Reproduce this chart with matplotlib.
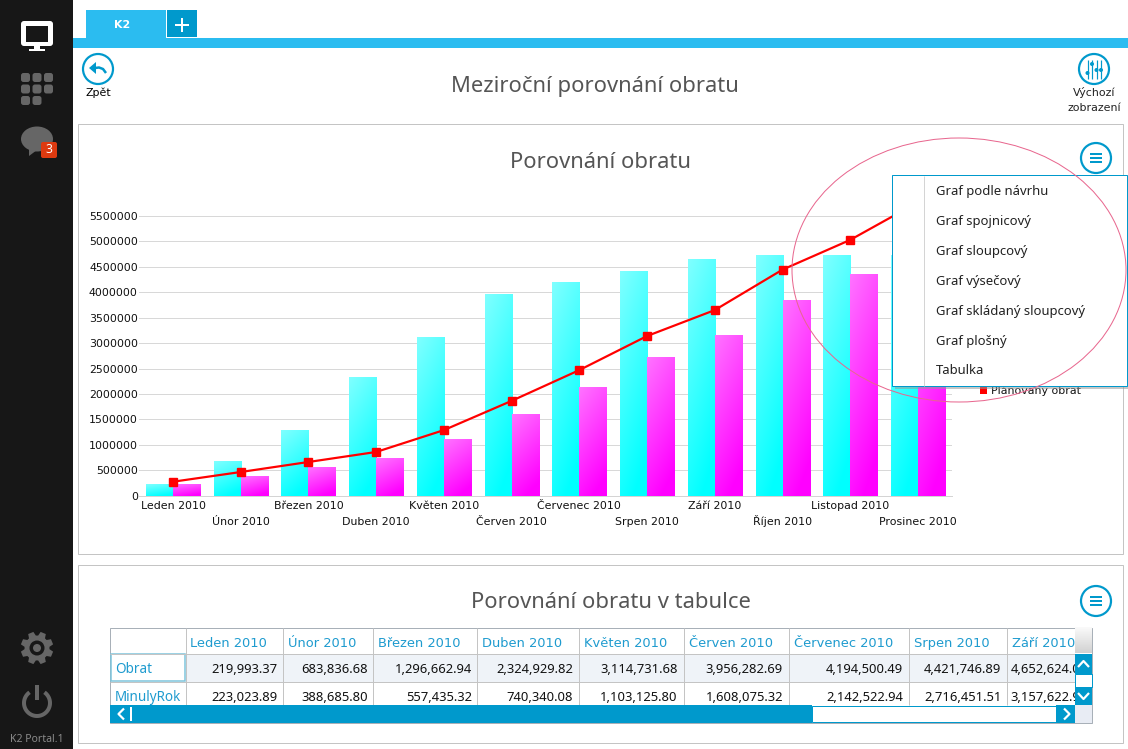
import numpy as np
import matplotlib
matplotlib.use("Agg")
import matplotlib.pyplot as plt
from matplotlib.patches import Rectangle, Circle, Ellipse, FancyBboxPatch, Polygon

months = ["Leden 2010", "Únor 2010", "Březen 2010", "Duben 2010", "Květen 2010", "Červen 2010",
          "Červenec 2010", "Srpen 2010", "Září 2010", "Říjen 2010", "Listopad 2010", "Prosinec 2010"]
obrat = [219993.37, 683836.68, 1296662.94, 2324929.82, 3114731.68, 3956282.69,
         4194500.49, 4421746.89, 4652624.06, 4730000, 4733000, 4733000]
minuly_rok = [223023.89, 388685.80, 557435.32, 740340.08, 1103125.80, 1608075.32,
              2142522.94, 2716451.51, 3157622.96, 3850000, 4360000, 4600000]
planovany = [275000, 466000, 663000, 860000, 1290000, 1865000,
             2470000, 3140000, 3650000, 4445000, 5030000, 5770000]
y_ticks = [0, 500000, 1000000, 1500000, 2000000, 2500000, 3000000, 3500000, 4000000, 4500000, 5000000, 5500000]
menu_items = ["Graf podle návrhu", "Graf spojnicový", "Graf sloupcový", "Graf výsečový",
              "Graf skládaný sloupcový", "Graf plošný", "Tabulka"]
table_cols = [185.5, 283.3, 373.3, 477.3, 578.7, 683.6, 788.7, 908.7, 1006.8, 1075]

W, H = 1128, 749
BLUE = "#0099cc"
LIGHT_BLUE = "#2bbcf0"
TEXT_BLUE = "#1e9bcf"
SIDE = "#171717"
ICON = "#666666"
BORDER = "#c4c4c4"
UI_FONT = "Noto Sans"
CHART_FONT = "DejaVu Sans"


def px(n):
    # pixels to points at dpi 100
    return n * 0.72


fig = plt.figure(figsize=(W / 100, H / 100), dpi=100, facecolor="white")


def full_axes(z):
    a = fig.add_axes([0, 0, 1, 1], zorder=z)
    a.set_xlim(0, W)
    a.set_ylim(H, 0)
    a.axis("off")
    a.patch.set_alpha(0)
    return a


bg = full_axes(1)
fg = full_axes(3)


def rect(a, x0, y0, x1, y1, color, edge="none", lw=1, z=2):
    r = Rectangle((x0, y0), x1 - x0, y1 - y0, facecolor=color, edgecolor=edge, linewidth=px(lw), zorder=z)
    a.add_patch(r)
    return r


def ln(a, xs, ys, color, lw=1, z=3, cap="butt"):
    a.plot(xs, ys, color=color, linewidth=px(lw), zorder=z, solid_capstyle=cap, solid_joinstyle="round")


def ring_button(a, cx, cy):
    a.add_patch(Circle((cx, cy), 15, facecolor="white", edgecolor=BLUE, linewidth=px(2.2), zorder=4))


def menu_button(a, cx, cy):
    ring_button(a, cx, cy)
    for dy in (-4, 0, 4):
        ln(a, [cx - 6, cx + 6], [cy + dy, cy + dy], BLUE, 2, z=5)


# sidebar
rect(bg, 0, 0, 73, H, SIDE)
bg.add_patch(FancyBboxPatch((23, 23), 28, 21, boxstyle="round,pad=2,rounding_size=3", facecolor="white", edgecolor="none", zorder=3))
rect(bg, 26, 26, 48, 42, SIDE, z=4)
rect(bg, 34, 45, 40, 49, "white", z=3)
rect(bg, 29, 48.5, 45, 50.5, "white", z=3)
for row, col in [(r, c) for r in range(3) for c in range(3)]:
    if row == 2 and col == 2:
        continue
    bg.add_patch(FancyBboxPatch((22.5 + col * 11.5, 74.5 + row * 11.5), 6, 6, boxstyle="round,pad=1.5,rounding_size=2.5",
                                facecolor=ICON, edgecolor="none", zorder=3))
bg.add_patch(Ellipse((37, 139), 32, 25, facecolor=ICON, edgecolor="none", zorder=3))
bg.add_patch(Polygon([(29, 148), (37, 150), (29, 156)], facecolor=ICON, edgecolor="none", zorder=3))
bg.add_patch(FancyBboxPatch((42.5, 143.5), 13, 13, boxstyle="round,pad=1.5,rounding_size=2", facecolor="#dd3a10", edgecolor="none", zorder=4))
bg.text(49, 149.5, "3", color="white", fontsize=px(12), ha="center", va="center", family=UI_FONT, zorder=5)

ang = np.linspace(0, 2 * np.pi, 8, endpoint=False) + np.pi / 8
gear = []
for t in ang:
    for d, r in [(-0.30, 12.5), (-0.17, 16.5), (0.17, 16.5), (0.30, 12.5)]:
        gear.append((37 + r * np.cos(t + d), 648 + r * np.sin(t + d)))
bg.add_patch(Polygon(gear, facecolor=ICON, edgecolor="none", zorder=3))
bg.add_patch(Circle((37, 648), 7.5, facecolor=SIDE, edgecolor="none", zorder=4))
bg.add_patch(Circle((37, 648), 4, facecolor=ICON, edgecolor="none", zorder=5))
arc = np.radians(np.linspace(-55, 235, 60))
ln(bg, 37 + 13 * np.cos(arc), 703 + 13 * np.sin(arc), ICON, 4)
ln(bg, [37, 37], [685, 700], ICON, 4)
bg.text(37, 740, "K2 Portal.1", color="#8a8a8a", fontsize=px(10.5), ha="center", va="center", family=UI_FONT)

# tab strip
rect(bg, 73, 38, W, 48, LIGHT_BLUE)
rect(bg, 86, 10, 166, 38, LIGHT_BLUE)
rect(bg, 167, 10, 197, 37, BLUE)
ln(bg, [175, 189], [25, 25], "white", 2)
ln(bg, [182, 182], [18, 32], "white", 2)
bg.text(122, 25, "K2", color="white", fontsize=px(11), fontweight="bold", ha="center", va="center", family=CHART_FONT)

# page header
ring_button(bg, 98, 69)
bg.add_patch(Polygon([(89, 68), (96, 62), (96, 74)], facecolor=BLUE, edgecolor="none", zorder=5))
ln(bg, [95, 99, 103, 106], [68, 67.5, 69, 73], BLUE, 2.5, z=5)
bg.text(98, 93, "Zpět", color="black", fontsize=px(11), ha="center", va="center", family=CHART_FONT)
ring_button(bg, 1094, 69)
for x, yd in zip([1087.5, 1092, 1096.5, 1101], [73, 64, 70, 70]):
    ln(bg, [x, x], [60, 79], BLUE, 1.2, z=5)
    bg.add_patch(Circle((x, yd), 2, facecolor=BLUE, edgecolor="none", zorder=6))
bg.text(1094, 93, "Výchozí", color="#222222", fontsize=px(11), ha="center", va="center", family=CHART_FONT)
bg.text(1094, 108, "zobrazení", color="#222222", fontsize=px(11), ha="center", va="center", family=CHART_FONT)
bg.text(595, 86.5, "Meziroční porovnání obratu", color="#555555", fontsize=px(22), ha="center", va="center", family=UI_FONT)

# panels
rect(bg, 78, 123.5, 1122.5, 554, "white", BORDER)
rect(bg, 78, 564.5, 1122.5, 743, "white", BORDER)
bg.text(600, 162, "Porovnání obratu", color="#555555", fontsize=px(22), ha="center", va="center", family=UI_FONT)
bg.text(611, 603, "Porovnání obratu v tabulce", color="#555555", fontsize=px(22), ha="center", va="center", family=UI_FONT)
menu_button(fg, 1096, 158)
menu_button(bg, 1096, 601)

# chart
x_left, x_right, y_zero, y_top = 139.2, 951.8, 495.7, 216.0
ax = fig.add_axes([x_left / W, 1 - y_zero / H, (x_right - x_left) / W, (y_zero - y_top) / H], zorder=2)
ax.patch.set_alpha(0)
ax.set_xlim(-0.5, 11.5)
ax.set_ylim(0, 5500000)
ax.set_autoscale_on(False)
for s in ("top", "right", "left"):
    ax.spines[s].set_visible(False)
ax.spines["bottom"].set_color("#d4d4d4")
ax.spines["bottom"].set_linewidth(px(1))
ax.set_yticks(y_ticks)
ax.set_yticklabels([str(v) for v in y_ticks], fontsize=px(11), family=CHART_FONT, color="#111111")
ax.tick_params(axis="y", length=0, pad=1)
ax.grid(axis="y", color="#d8d8d8", linewidth=px(1))
ax.set_axisbelow(True)
ax.set_xticks(range(len(months)))
ax.set_xticklabels(months, fontsize=px(11), family=CHART_FONT, color="#111111", va="baseline")
ax.tick_params(axis="x", length=0)
for i, tick in enumerate(ax.xaxis.get_major_ticks()):
    tick.set_pad(px(13 if i % 2 == 0 else 29))
for lab in ax.get_xticklabels():
    lab.set_verticalalignment("baseline")


def gradient_bars(xs, values, width, light, full):
    bars = ax.bar(xs, values, width=width, align="edge", color=full, zorder=2)
    u, v = np.meshgrid(np.linspace(0, 1, 24), np.linspace(0, 1, 96))
    t = np.clip(0.3 * u + 0.85 * v, 0, 1)[..., None]
    img = np.array(light) * (1 - t) + np.array(full) * t
    for b in bars:
        # row 0 of the image is the top of the bar
        ax.imshow(img, extent=(b.get_x(), b.get_x() + b.get_width(), 0, b.get_height()),
                  aspect="auto", origin="upper", zorder=2.1, interpolation="bilinear")


x = np.arange(len(months))
bar_w = 27 / 67.7
gradient_bars(x - bar_w, obrat, bar_w, (0.50, 1, 1), (0, 1, 1))
gradient_bars(x, minuly_rok, bar_w, (1, 0.45, 1), (1, 0, 1))
ax.plot(x, planovany, color="#ff0000", linewidth=px(2.2), marker="s", markersize=px(8.5),
        markerfacecolor="#ff0000", markeredgecolor="#ff0000", zorder=3, clip_on=False)

# legend remnant under the menu
rect(fg, 980, 386, 987, 394, "#ff0000", z=1)
fg.text(991, 390, "Plánovaný obrat", color="#111111", fontsize=px(11), ha="left", va="center", family=CHART_FONT, zorder=1)

# popup menu
rect(fg, 895, 179, 1128, 389, "#999999", z=1.5).set_alpha(0.55)
rect(fg, 892, 175, 1126.5, 386, "white", BLUE, z=2)
ln(fg, [923.7, 923.7], [176, 385.5], "#d4d4d4", 1)
for i, item in enumerate(menu_items):
    fg.text(936, 191 + i * 30, item, color="#222222", fontsize=px(13.1), ha="left", va="center", family=UI_FONT, zorder=4)
fg.add_patch(Ellipse((959, 270), 334, 264, facecolor="none", edgecolor="#e8668e", linewidth=px(1), zorder=5))

# table
t_left, t_top, t_head, t_row1, t_bar, t_bottom, t_right = 110, 628, 653.5, 681.5, 705, 723, 1091.5
rect(bg, t_left, t_top, t_right, t_bottom, "white", "#a8b0b8")
rect(bg, table_cols[0], t_head, table_cols[-1], t_row1, "#eff3f8")
for cx in table_cols[:-1]:
    ln(bg, [cx, cx], [t_top, t_bar], BORDER)
ln(bg, [t_left, table_cols[-1]], [t_head, t_head], BORDER)
ln(bg, [t_left, table_cols[-1]], [t_row1, t_row1], BORDER)
rect(bg, 111, 654, 185, 681, "white", "#7cc4dc", lw=1.5)
bg.text(115, 673, "Obrat", color=TEXT_BLUE, fontsize=px(13.5), ha="left", va="baseline", family=UI_FONT, zorder=6)
bg.text(115, 701, "MinulyRok", color=TEXT_BLUE, fontsize=px(13.5), ha="left", va="baseline", family=UI_FONT, zorder=6)
clip = Rectangle((t_left, t_top), table_cols[-1] - t_left, t_bar - t_top, transform=bg.transData)
value_rights = [278, 368, 472, 573, 677.5, 783, 903, 1001.5, 1088]
for j in range(9):
    left = table_cols[j]
    head = bg.text(left + 5, 647, months[j], color=TEXT_BLUE, fontsize=px(13), ha="left", va="baseline", family=CHART_FONT, zorder=6)
    head.set_clip_path(clip)
    head.set_clip_on(True)
    for yy, series in [(673, obrat), (701, minuly_rok)]:
        cell = bg.text(value_rights[j], yy, f"{series[j]:,.2f}", color="#111111", fontsize=px(13), ha="right", va="baseline", family=UI_FONT, zorder=6)
        cell.set_clip_path(clip)
        cell.set_clip_on(True)

# table scrollbars
rect(bg, t_left, t_bar, 812, t_bottom, BLUE, z=4)
rect(bg, 812, t_bar + 1, 1056, t_bottom - 1, "white", BLUE, z=4)
rect(bg, 1056, t_bar, table_cols[-1], t_bottom, BLUE, z=4)
rect(bg, table_cols[-1], t_bar, t_right, t_bottom, "#e8ecf4", z=4)
ln(bg, [124, 118.5, 124], [708.5, 714, 719.5], "white", 2.2, z=6)
ln(bg, [131, 131], [707, 721], "white", 2, z=6)
ln(bg, [1064, 1069.5, 1064], [708.5, 714, 719.5], "white", 2.2, z=6)
head_grad = np.linspace(0.98, 0.82, 32)[:, None]
bg.imshow(head_grad, extent=(table_cols[-1], t_right, t_head, t_top), aspect="auto", cmap="gray", vmin=0, vmax=1, zorder=4)
bg.set_xlim(0, W)
bg.set_ylim(H, 0)
rect(bg, table_cols[-1], t_head, t_right, 674, BLUE, z=4)
rect(bg, table_cols[-1], 674, t_right, 687, "white", BLUE, z=4)
rect(bg, table_cols[-1], 687, t_right, t_bar, BLUE, z=4)
ln(bg, [1078, 1083.5, 1089], [667, 661, 667], "white", 2.2, z=6)
ln(bg, [1078, 1083.5, 1089], [693, 699, 693], "white", 2.2, z=6)

fig.savefig("out.png", dpi=100)
